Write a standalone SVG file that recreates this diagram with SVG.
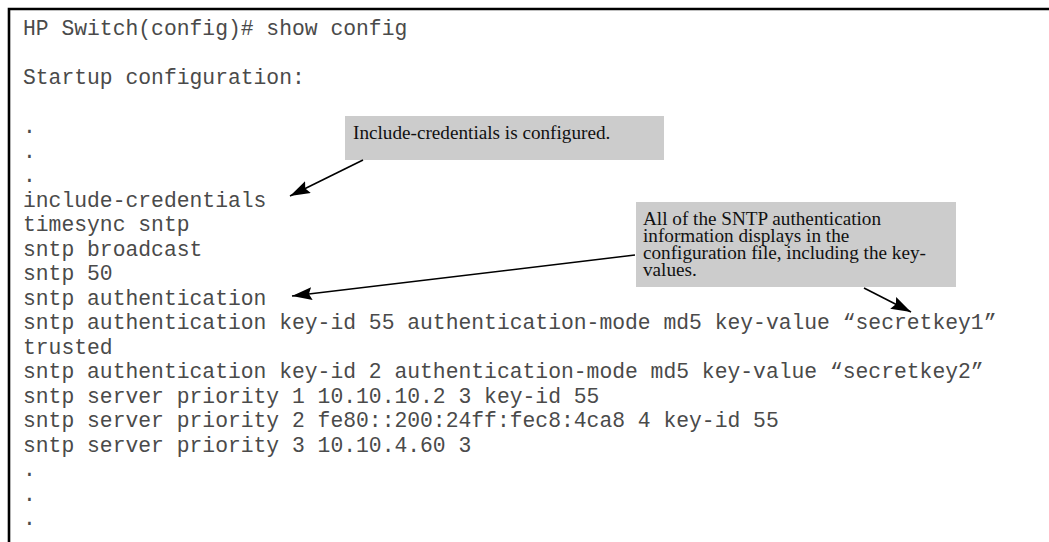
<svg xmlns="http://www.w3.org/2000/svg" width="1049" height="542" viewBox="0 0 1049 542">
<style>
.code{font-family:"Liberation Mono","Courier New",monospace;font-size:21.35px;fill:#4a4a4a}
.note{font-family:"Liberation Serif","Times New Roman",serif;font-size:19.2px;fill:#111}
.box{fill:#cccccc}
.conn{stroke:#000;stroke-width:1.6;fill:none;marker-end:url(#ah)}
</style>
<defs>
<marker id="ah" markerUnits="userSpaceOnUse" markerWidth="22" markerHeight="14" refX="20" refY="6.5" orient="auto">
<path d="M0,0 L20,6.5 L0,13 L3,6.5 z" fill="#000"/>
</marker>
</defs>
<rect width="1049" height="542" fill="#fff"/>
<g id="frame" stroke="#000" stroke-width="2.6" fill="none">
<path d="M9,542 L9,9 L1049,9"/>
</g>
<g id="config-text" class="code">
<text x="23" y="35">HP Switch(config)# show config</text>
<text x="23" y="84">Startup configuration:</text>
<text x="23" y="133">.</text>
<text x="23" y="157.5">.</text>
<text x="23" y="182">.</text>
<text x="23" y="206.5">include-credentials</text>
<text x="23" y="231">timesync sntp</text>
<text x="23" y="255.5">sntp broadcast</text>
<text x="23" y="280">sntp 50</text>
<text x="23" y="304.5">sntp authentication</text>
<text x="23" y="329">sntp authentication key-id 55 authentication-mode md5 key-value “secretkey1”</text>
<text x="23" y="353.5">trusted</text>
<text x="23" y="378">sntp authentication key-id 2 authentication-mode md5 key-value “secretkey2”</text>
<text x="23" y="402.5">sntp server priority 1 10.10.10.2 3 key-id 55</text>
<text x="23" y="427">sntp server priority 2 fe80::200:24ff:fec8:4ca8 4 key-id 55</text>
<text x="23" y="451.5">sntp server priority 3 10.10.4.60 3</text>
<text x="23" y="476">.</text>
<text x="23" y="500.5">.</text>
<text x="23" y="525">.</text>
</g>
<g id="callout-include-credentials">
<rect class="box" x="345" y="116" width="319" height="44"/>
<text class="note" x="353" y="139">Include-credentials is configured.</text>
</g>
<g id="callout-sntp-auth">
<rect class="box" x="636" y="202" width="320" height="85"/>
<text class="note" x="643" y="225">All of the SNTP authentication</text>
<text class="note" x="643" y="242">information displays in the</text>
<text class="note" x="643" y="259">configuration file, including the key-</text>
<text class="note" x="643" y="276">values.</text>
</g>
<g id="connectors">
<line class="conn" x1="363" y1="160" x2="290" y2="196"/>
<line class="conn" x1="635" y1="255" x2="292" y2="296"/>
<line class="conn" x1="864" y1="288" x2="911" y2="312"/>
</g>
</svg>
